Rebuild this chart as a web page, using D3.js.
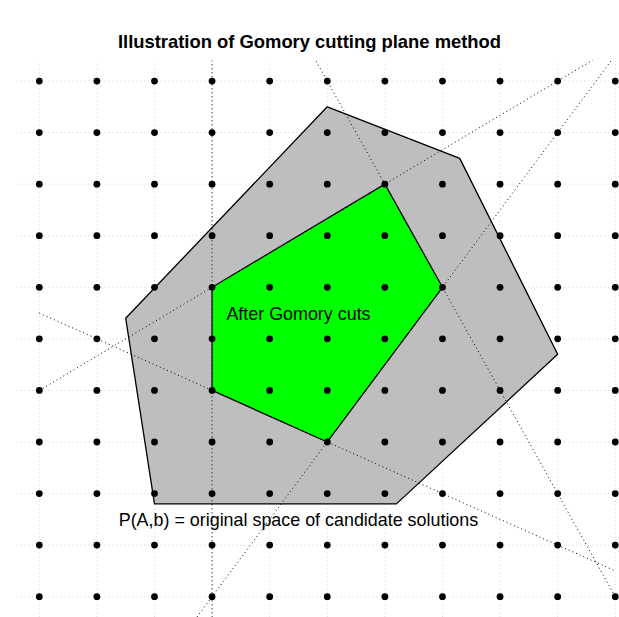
<!DOCTYPE html>
<html>
<head>
<meta charset="utf-8">
<script src="https://cdn.jsdelivr.net/npm/d3@7"></script>
<style>
  body { margin: 0; background: #fff; }
  svg { display: block; font-family: "Liberation Sans", Arial, Helvetica, sans-serif; }
</style>
</head>
<body>
<div id="chart"></div>
<script>
// integer lattice (both axes)
var latticeX = [0, 1, 2, 3, 4, 5, 6, 7, 8, 9, 10];
var latticeY = [0, 1, 2, 3, 4, 5, 6, 7, 8, 9, 10];

// original feasible region P(A,b)
var outerPoly = [[5, 9.5], [7.3, 8.5], [9, 4.7], [6.2, 1.8], [2, 1.8], [1.5, 5.4]];
// region after the cuts (integer hull)
var innerPoly = [[6, 8], [7, 6], [5, 3], [3, 4], [3, 6]];

// cutting planes, drawn between x = 0 and x = 10
var cutLines = [
  [[0, 4], [10, 32 / 3]],
  [[0, 20], [10, 0]],
  [[0, -4.5], [10, 10.5]],
  [[0, 5.5], [10, 0.5]]
];
var cutVertical = [3];

var labels = [
  {x: 4.5, y: 5.5, text: "After Gomory cuts"},
  {x: 4.5, y: 1.5, text: "P(A,b) = original space of candidate solutions"}
];
var title = "Illustration of Gomory cutting plane method";

var W = 619, H = 617;
var xDom = [-0.4, 10.4], yDom = [-0.4, 10.4];

var svg = d3.select("#chart").append("svg")
    .attr("width", W)
    .attr("height", H);

var x = d3.scaleLinear().domain(xDom).range([16.26, 638.3]);
var y = d3.scaleLinear().domain(yDom).range([617.3, 60.4]);

svg.append("clipPath").attr("id", "plotclip")
  .append("rect")
    .attr("x", x(xDom[0])).attr("y", y(yDom[1]))
    .attr("width", x(xDom[1]) - x(xDom[0]))
    .attr("height", y(yDom[0]) - y(yDom[1]));

var plot = svg.append("g").attr("clip-path", "url(#plotclip)");

// light dotted grid
plot.selectAll(".vgrid").data(latticeX).enter().append("line")
    .attr("class", "vgrid")
    .attr("x1", function(d) { return x(d); }).attr("x2", function(d) { return x(d); })
    .attr("y1", y(yDom[0])).attr("y2", y(yDom[1]))
    .attr("stroke", "#d3d3d3").attr("stroke-width", 1).attr("stroke-dasharray", "1,3");
plot.selectAll(".hgrid").data(latticeY).enter().append("line")
    .attr("class", "hgrid")
    .attr("y1", function(d) { return y(d); }).attr("y2", function(d) { return y(d); })
    .attr("x1", x(xDom[0])).attr("x2", x(xDom[1]))
    .attr("stroke", "#d3d3d3").attr("stroke-width", 1).attr("stroke-dasharray", "1,3");

var line = d3.line()
    .x(function(d) { return x(d[0]); })
    .y(function(d) { return y(d[1]); });

plot.append("path")
    .datum(outerPoly)
    .attr("d", function(d) { return line(d) + "Z"; })
    .attr("fill", "#bebebe").attr("stroke", "#000").attr("stroke-width", 1.3)
    .attr("stroke-linejoin", "round");

// cutting planes
plot.selectAll(".cut").data(cutLines).enter().append("path")
    .attr("class", "cut")
    .attr("d", line)
    .attr("fill", "none").attr("stroke", "#000").attr("stroke-width", 1)
    .attr("stroke-dasharray", "1,3");
plot.selectAll(".vcut").data(cutVertical).enter().append("line")
    .attr("class", "vcut")
    .attr("x1", function(d) { return x(d); }).attr("x2", function(d) { return x(d); })
    .attr("y1", y(yDom[0])).attr("y2", y(yDom[1]))
    .attr("stroke", "#000").attr("stroke-width", 1).attr("stroke-dasharray", "1,3");

plot.append("path")
    .datum(innerPoly)
    .attr("d", function(d) { return line(d) + "Z"; })
    .attr("fill", "#00ff00").attr("stroke", "#000").attr("stroke-width", 1.3)
    .attr("stroke-linejoin", "round");

// lattice points
var pts = [];
latticeX.forEach(function(i) { latticeY.forEach(function(j) { pts.push([i, j]); }); });
plot.selectAll(".pt").data(pts).enter().append("circle")
    .attr("class", "pt")
    .attr("cx", function(d) { return x(d[0]); })
    .attr("cy", function(d) { return y(d[1]); })
    .attr("r", 3.4)
    .attr("fill", "#000");

svg.selectAll(".lab").data(labels).enter().append("text")
    .attr("class", "lab")
    .attr("x", function(d) { return x(d.x); })
    .attr("y", function(d) { return y(d.y); })
    .attr("dy", "0.36em")
    .attr("text-anchor", "middle")
    .attr("font-size", "17.9px")
    .attr("fill", "#000")
    .text(function(d) { return d.text; });

svg.append("text")
    .attr("x", 309.5)
    .attr("y", 48)
    .attr("text-anchor", "middle")
    .attr("font-size", "18.4px")
    .attr("font-weight", "bold")
    .text(title);
</script>
</body>
</html>
